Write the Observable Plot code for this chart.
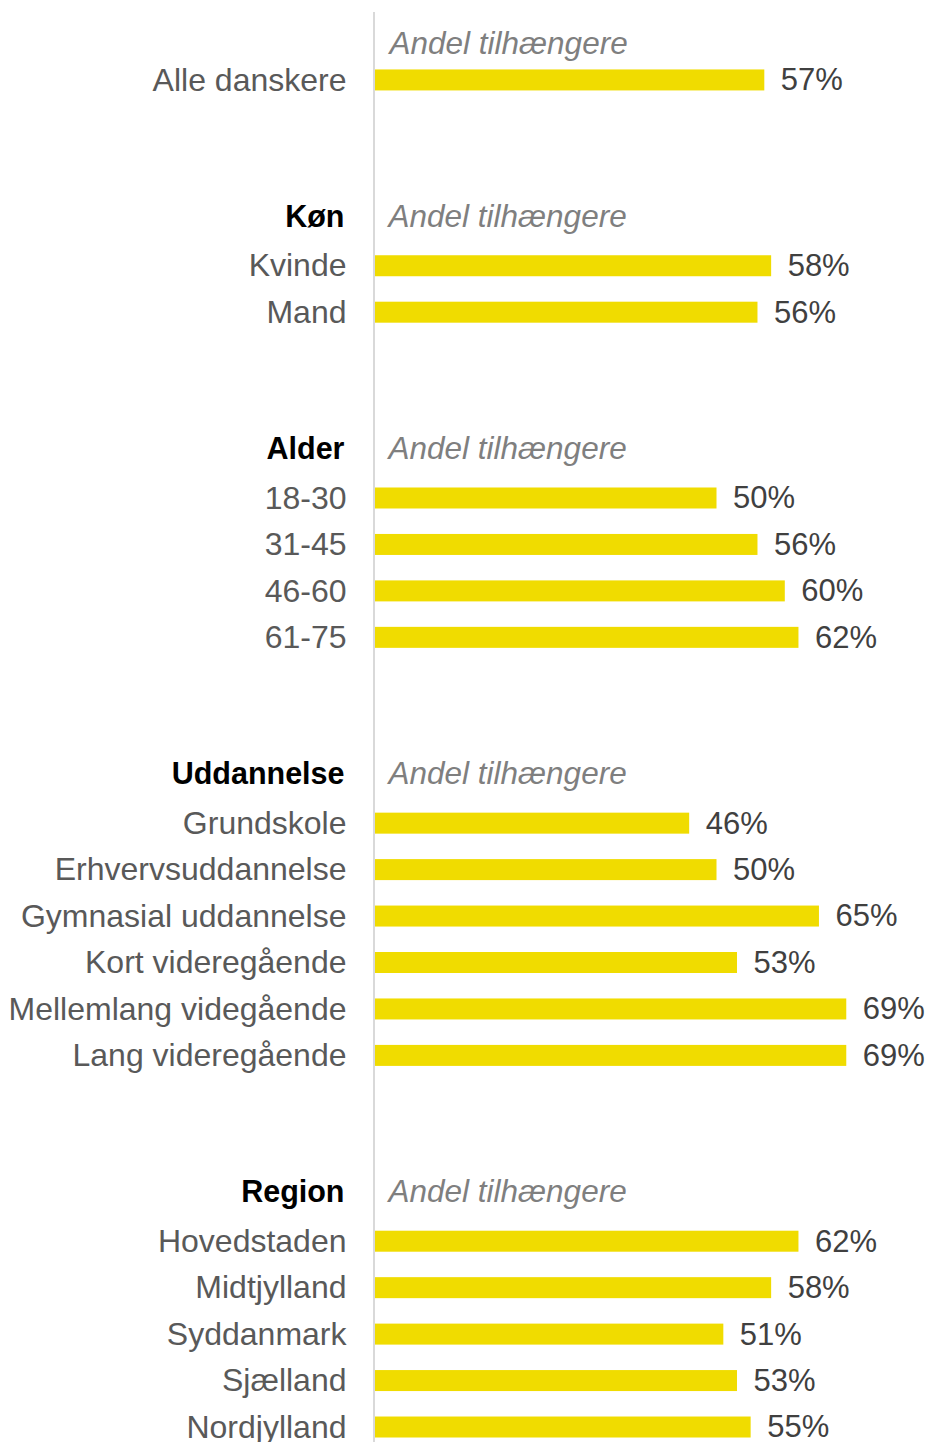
<!DOCTYPE html>
<html>
<head>
<meta charset="utf-8">
<script src="https://cdn.jsdelivr.net/npm/d3@7"></script>
<script src="https://cdn.jsdelivr.net/npm/@observablehq/plot@0.6"></script>
<style>
  html, body { margin: 0; padding: 0; background: #fff; overflow: hidden; }
  #chart svg { display: block; }
</style>
</head>
<body>
<div id="chart"></div>
<script>
// ---- data ----
const groupNames = ["", "Køn", "Alder", "Uddannelse", "Region"];
const headerLabel = "Andel tilhængere";
const cats0 = ["Alle danskere"];
const vals0 = [57];
const cats1 = ["Kvinde", "Mand"];
const vals1 = [58, 56];
const cats2 = ["18-30", "31-45", "46-60", "61-75"];
const vals2 = [50, 56, 60, 62];
const cats3 = ["Grundskole", "Erhvervsuddannelse", "Gymnasial uddannelse", "Kort videregående", "Mellemlang videgående", "Lang videregående"];
const vals3 = [46, 50, 65, 53, 69, 69];
const cats4 = ["Hovedstaden", "Midtjylland", "Syddanmark", "Sjælland", "Nordjylland"];
const vals4 = [62, 58, 51, 53, 55];

const allCats = [cats0, cats1, cats2, cats3, cats4];
const allVals = [vals0, vals1, vals2, vals3, vals4];

// ---- build rows ----
const keys = [];
const headers = [];
const items = [];
groupNames.forEach((g, gi) => {
  const hk = "h" + gi;
  keys.push(hk);
  headers.push({key: hk, name: g, group: gi});
  allCats[gi].forEach((c, ci) => {
    const k = "r" + gi + "_" + ci;
    keys.push(k);
    items.push({key: k, label: c, value: allVals[gi][ci]});
  });
  if (gi < groupNames.length - 1) {
    keys.push("s" + gi + "a");
    keys.push("s" + gi + "b");
  }
});

const font = "'Liberation Sans', Arial, Helvetica, sans-serif";

const chart = Plot.plot({
  width: 928,
  height: 1442,
  marginTop: 12,
  marginBottom: 0,
  marginLeft: 0,
  marginRight: 0,
  style: {fontFamily: font, background: "#fff"},
  x: {domain: [0, 100], range: [375, 1058], axis: null},
  y: {type: "band", domain: keys, range: [0, 1460.5], paddingInner: 0.548, paddingOuter: 0.495, round: false, axis: null},
  marks: [
    Plot.ruleX([0], {stroke: "#d9d9d9", strokeWidth: 2, dx: -1.5}),
    Plot.barX(items, {x: "value", y: "key", fill: "#f0dc00"}),
    Plot.text(items, {x: 0, y: "key", text: "label", textAnchor: "end", dx: -29, fontSize: 32, fill: "#595959"}),
    Plot.text(items, {x: "value", y: "key", text: d => d.value + "%", textAnchor: "start", dx: 16, fontSize: 31, fill: "#404040"}),
    Plot.text(headers.filter(d => d.name), {x: 0, y: "key", text: "name", textAnchor: "end", dx: -31, dy: -3, fontSize: 30.5, fontWeight: "bold", fill: "#000"}),
    Plot.text(headers.filter(d => d.group > 0), {x: 0, y: "key", text: () => headerLabel, textAnchor: "start", dx: 13, dy: -3, fontSize: 31.5, fontStyle: "italic", fill: "#7f7f7f"}),
    Plot.text(headers.filter(d => d.group === 0), {x: 0, y: "key", text: () => headerLabel, textAnchor: "start", dx: 14, dy: 10, fontSize: 31.5, fontStyle: "italic", fill: "#7f7f7f"})
  ]
});
document.getElementById("chart").appendChild(chart);
</script>
</body>
</html>
